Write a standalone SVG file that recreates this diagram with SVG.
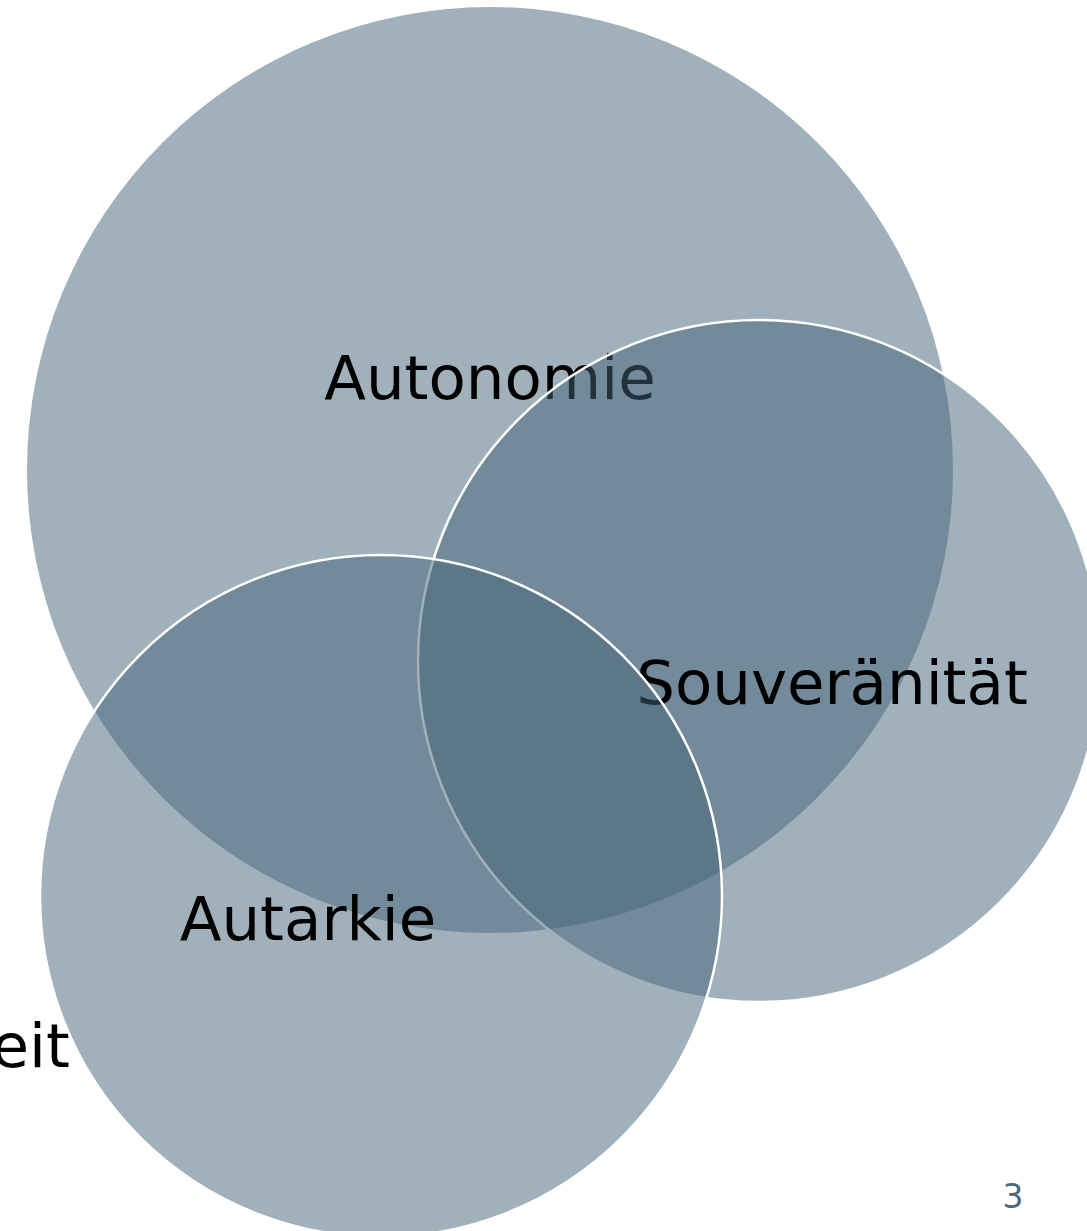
<svg xmlns="http://www.w3.org/2000/svg" width="1087" height="1231" viewBox="0 0 1087 1231">
<style>
.c{fill:#436377;fill-opacity:0.5}
.s{stroke:#ffffff;stroke-width:2.5}
.t{font-family:"DejaVu Sans",Verdana,sans-serif;font-size:61px;fill:#000000}
.pg{font-family:"DejaVu Sans",Verdana,sans-serif;font-size:33px;fill:#4a6b80}
</style>
<rect width="1087" height="1231" fill="#ffffff"/>
<text class="t" x="70" y="1067" text-anchor="end">eit</text>
<g id="autonomie">
<circle class="c" cx="490" cy="470" r="463"/>
<text class="t" x="490" y="399" text-anchor="middle">Autonomie</text>
</g>
<g id="souveraenitaet">
<circle class="c s" cx="759" cy="661" r="341"/>
<text class="t" x="832" y="704" text-anchor="middle">Souveränität</text>
</g>
<g id="autarkie">
<circle class="c s" cx="381" cy="896" r="341"/>
<text class="t" x="308" y="940" text-anchor="middle">Autarkie</text>
</g>
<g id="connectors"/>
<text class="pg" x="1013" y="1208" text-anchor="middle">3</text>
</svg>
